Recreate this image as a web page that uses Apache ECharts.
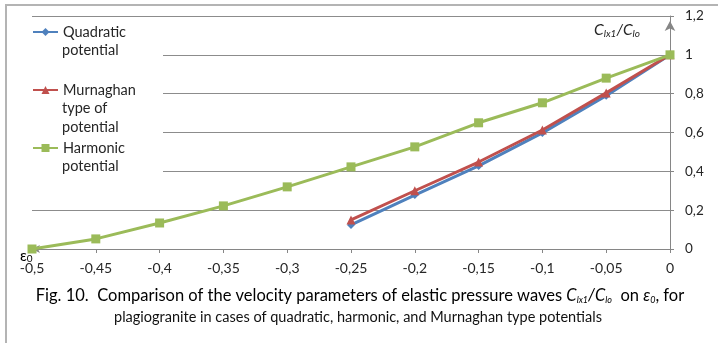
<!DOCTYPE html>
<html>
<head>
<meta charset="utf-8">
<script src="https://cdn.jsdelivr.net/npm/echarts@6/dist/echarts.min.js"></script>
<style>
  html, body { margin: 0; padding: 0; background: #fff; }
  #chart { width: 718px; height: 343px; }
</style>
</head>
<body>
<div id="chart"></div>
<script>
// Strain values eps0 along the horizontal axis
const epsHarmonic = [-0.5, -0.45, -0.4, -0.35, -0.3, -0.25, -0.2, -0.15, -0.1, -0.05, 0];
const epsShort = [-0.25, -0.2, -0.15, -0.1, -0.05, 0];

// Relative velocity C_lx1 / C_lo for each potential
const quadratic = [0.124, 0.278, 0.428, 0.598, 0.789, 1];
const murnaghan = [0.15, 0.30, 0.448, 0.613, 0.804, 1];
const harmonic = [0, 0.052, 0.134, 0.222, 0.32, 0.423, 0.526, 0.65, 0.753, 0.88, 1];

// Series names and the way the legend breaks them over lines
const seriesNames = ['Quadratic potential', 'Murnaghan type of potential', 'Harmonic potential'];
const legendLines = [['Quadratic', 'potential'], ['Murnaghan', 'type of', 'potential'], ['Harmonic', 'potential']];

// Axis tick labels use a decimal comma
const fmtComma = v => String(Math.round(v * 100) / 100).replace('.', ',');

const pairs = (xs, ys) => xs.map((x, i) => [x, ys[i]]);

const FONT = 'Lato, "Open Sans", sans-serif';
const AXIS_GRAY = '#868686';
const TEXT = '#262626';
const LEGEND_FS = 14.5;
const LINE_H = 18.5;
// vertical centre of each legend entry's first line
const legendRowY = [32, 90, 148];

const legends = seriesNames.map((name, i) => ({
  data: [name],
  left: 32,
  top: legendRowY[i] - 9,
  orient: 'vertical',
  padding: 0,
  itemWidth: 25,
  itemHeight: 10,
  selectedMode: false,
  formatter: () => legendLines[i][0],
  textStyle: { fontFamily: FONT, fontSize: LEGEND_FS, color: TEXT, lineHeight: 18 }
}));

// continuation lines of the legend labels
const legendExtra = [];
legendLines.forEach((lines, i) => {
  lines.slice(1).forEach((txt, k) => {
    legendExtra.push({
      type: 'text', silent: true, z: 5,
      x: 62, y: legendRowY[i] + LINE_H * (k + 1),
      style: { text: txt, fontFamily: FONT, fontSize: LEGEND_FS, fill: TEXT, verticalAlign: 'middle', align: 'left' }
    });
  });
});

const chart = echarts.init(document.getElementById('chart'), null, { renderer: 'canvas' });

chart.setOption({
  animation: false,
  backgroundColor: '#fff',
  grid: { left: 32, right: 48, top: 16, bottom: 94, containLabel: false },
  legend: legends,
  xAxis: {
    type: 'value',
    min: -0.5,
    max: 0,
    interval: 0.05,
    axisLine: {
      onZero: false,
      lineStyle: { color: AXIS_GRAY, width: 1 },
      symbol: ['arrow', 'none'],
      symbolSize: [6, 8]
    },
    axisTick: { show: true, length: 4, lineStyle: { color: AXIS_GRAY } },
    axisLabel: {
      margin: 12,
      fontFamily: FONT,
      fontSize: 14,
      color: TEXT,
      formatter: fmtComma
    },
    splitLine: { show: false }
  },
  yAxis: {
    type: 'value',
    position: 'right',
    min: 0,
    max: 1.2,
    interval: 0.2,
    name: '{c|C}{s|lx1}{c|/C}{s|lo}',
    nameLocation: 'end',
    nameGap: -14,
    nameTextStyle: {
      align: 'right',
      verticalAlign: 'middle',
      padding: [0, 30, 0, 0],
      rich: {
        c: { fontFamily: FONT, fontStyle: 'italic', fontSize: 15.5, color: TEXT },
        s: { fontFamily: FONT, fontStyle: 'italic', fontSize: 10, color: TEXT, padding: [7, 0, 0, 0] }
      }
    },
    axisLine: {
      show: true,
      lineStyle: { color: AXIS_GRAY, width: 1 },
      symbol: ['none', 'arrow'],
      symbolSize: [8, 10],
      symbolOffset: [0, -5]
    },
    axisTick: { show: true, length: 4, lineStyle: { color: AXIS_GRAY } },
    axisLabel: {
      margin: 15,
      fontFamily: FONT,
      fontSize: 13.5,
      color: TEXT,
      formatter: fmtComma
    },
    splitLine: { show: true, lineStyle: { color: '#8c8c8c', width: 1 } }
  },
  graphic: [
    // outer frame
    {
      type: 'rect', silent: true, z: 0,
      shape: { x: 6, y: 5, width: 760, height: 400 },
      style: { fill: 'none', stroke: '#b4b4b4', lineWidth: 2 }
    },
    // legend backdrop
    {
      type: 'rect', silent: true, z: 1,
      shape: { x: 21, y: 20, width: 142, height: 160 },
      style: { fill: '#fff' }
    },
    // horizontal axis symbol eps0 by the origin
    {
      type: 'text', silent: true, z: 5,
      x: 20, y: 256,
      style: {
        text: '{e|ε}{s|0}',
        align: 'left',
        verticalAlign: 'middle',
        rich: {
          e: { fontFamily: FONT, fontSize: 15, color: TEXT },
          s: { fontFamily: FONT, fontSize: 10, color: TEXT, padding: [6, 0, 0, 0] }
        }
      }
    },
    // figure caption, first line
    {
      type: 'text', silent: true, z: 5,
      x: 360, y: 296,
      style: {
        text: '{t|Fig. 10.  Comparison of the velocity parameters of elastic pressure waves }{i|C}{s|lx1}{i|/C}{s|lo}{t|  on }{i|ε}{s|0}{t|, for}',
        align: 'center',
        verticalAlign: 'middle',
        rich: {
          t: { fontFamily: FONT, fontSize: 16.5, color: '#111' },
          i: { fontFamily: FONT, fontSize: 16.5, fontStyle: 'italic', color: '#111' },
          s: { fontFamily: FONT, fontSize: 9, fontStyle: 'italic', color: '#111', padding: [8, 0, 0, 0] }
        }
      }
    },
    // figure caption, second line
    {
      type: 'text', silent: true, z: 5,
      x: 358, y: 317,
      style: {
        text: 'plagiogranite in cases of quadratic, harmonic, and Murnaghan type potentials',
        align: 'center',
        verticalAlign: 'middle',
        fontFamily: FONT, fontSize: 14.5, fill: '#111'
      }
    }
  ].concat(legendExtra),
  series: [
    {
      name: seriesNames[0],
      type: 'line',
      data: pairs(epsShort, quadratic),
      symbol: 'diamond',
      symbolSize: 8,
      lineStyle: { color: '#4F81BD', width: 3 },
      itemStyle: { color: '#4F81BD' },
      z: 2
    },
    {
      name: seriesNames[1],
      type: 'line',
      data: pairs(epsShort, murnaghan),
      symbol: 'triangle',
      symbolSize: 9,
      lineStyle: { color: '#C0504D', width: 3 },
      itemStyle: { color: '#C0504D' },
      z: 3
    },
    {
      name: seriesNames[2],
      type: 'line',
      data: pairs(epsHarmonic, harmonic),
      symbol: 'rect',
      symbolSize: 9,
      lineStyle: { color: '#9BBB59', width: 3 },
      itemStyle: { color: '#9BBB59' },
      z: 4
    }
  ]
});
</script>
</body>
</html>
